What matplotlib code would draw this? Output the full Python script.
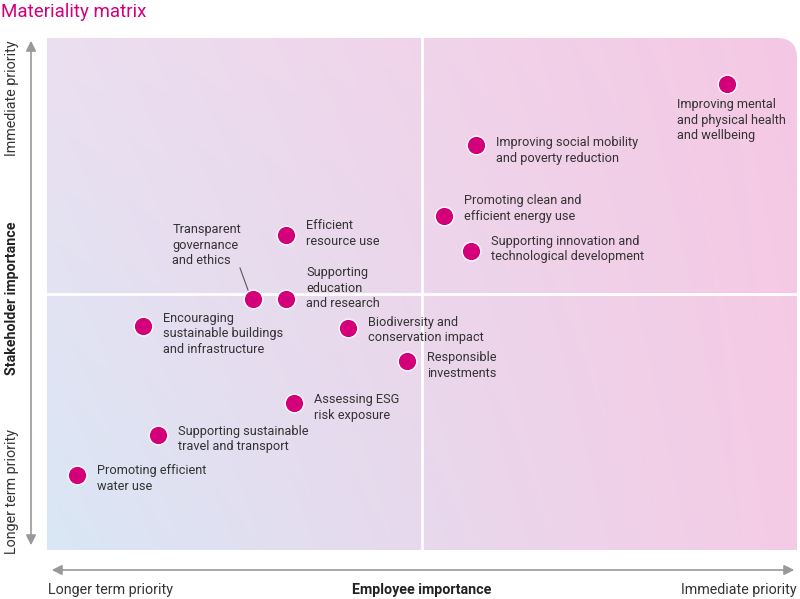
import matplotlib
matplotlib.use("Agg")
import matplotlib.pyplot as plt
import numpy as np
from matplotlib.path import Path
from matplotlib.patches import PathPatch, FancyArrowPatch
from matplotlib.colors import to_rgb

plt.rcParams['font.family'] = ['Roboto', 'DejaVu Sans']

# topics, employee importance (x) and stakeholder importance (y) on a 0-10 scale
topics = [
    "Improving mental\nand physical health\nand wellbeing",
    "Improving social mobility\nand poverty reduction",
    "Promoting clean and\nefficient energy use",
    "Supporting innovation and\ntechnological development",
    "Efficient\nresource use",
    "Transparent\ngovernance\nand ethics",
    "Supporting\neducation\nand research",
    "Encouraging\nsustainable buildings\nand infrastructure",
    "Biodiversity and\nconservation impact",
    "Responsible\ninvestments",
    "Assessing ESG\nrisk exposure",
    "Supporting sustainable\ntravel and transport",
    "Promoting efficient\nwater use",
]
employee = [9.07, 5.72, 5.29, 5.65, 3.19, 2.75, 3.19, 1.28, 4.01, 4.80, 3.29, 1.48, 0.40]
stakeholder = [9.10, 7.91, 6.52, 5.84, 6.15, 4.90, 4.90, 4.38, 4.34, 3.69, 2.87, 2.25, 1.46]

# label offsets in pixels (dx, dy of text top-left from marker)
offsets = [(-50, -14), (20, 9), (20, 22), (20, 16), (20, 16), (-81, 76), (20, 33),
           (20, 14), (20, 12), (20, 10), (20, 10), (20, 10), (20, 11)]

magenta = "#d4007a"
grey = "#999999"
text_col = "#333333"

fig = plt.figure(figsize=(8, 5.99), dpi=100)
W, H = 800, 599
ax = fig.add_axes([47 / W, (H - 550) / H, 750 / W, 512 / H])
ax.set_xlim(0, 10)
ax.set_ylim(0, 10)
ax.axis('off')

# background gradient
bl, tl, br, tr = [np.array(to_rgb(c)) for c in ("#d9e7f5", "#ebdff0", "#f5cbe5", "#f5c8e4")]
n = 200
u = np.linspace(0, 1, n)[None, :, None]
v = np.linspace(0, 1, n)[:, None, None]
grad = (1 - u) * (1 - v) * bl + (1 - u) * v * tl + u * (1 - v) * br + u * v * tr
img = ax.imshow(grad, extent=[0, 10, 0, 10], origin='lower', aspect='auto', zorder=0)

rx, ry = 20 / 75, 20 / 51.2
verts = [(0, 0), (10, 0), (10, 10 - ry), (10, 10), (10 - rx, 10), (0, 10), (0, 0)]
codes = [Path.MOVETO, Path.LINETO, Path.LINETO, Path.CURVE3, Path.CURVE3, Path.LINETO, Path.CLOSEPOLY]
clip = PathPatch(Path(verts, codes), transform=ax.transData, facecolor='none', edgecolor='none')
ax.add_patch(clip)
img.set_clip_path(clip)

ax.axvline(5, color='white', lw=2, zorder=1)
ax.axhline(5, color='white', lw=2, zorder=1)

ax.scatter(employee, stakeholder, s=180, color=magenta, edgecolor='white', linewidth=1, zorder=3)

for name, x, y, (dx, dy) in zip(topics, employee, stakeholder, offsets):
    ax.annotate(name, (x, y), xytext=(dx, dy), textcoords='offset pixels',
                ha='left', va='top', fontsize=9.2, color=text_col, linespacing=1.25, zorder=4)

# leader line for transparent governance
ax.plot([(240 - 47) / 75, (248 - 47) / 75], [(550 - 268) / 51.2, (550 - 290) / 51.2],
        color='#555555', lw=0.8, zorder=2)

# axis arrows
fig.patches.append(FancyArrowPatch((31 / W, 1 - 548 / H), (31 / W, 1 - 38 / H), transform=fig.transFigure,
                                   arrowstyle='<|-|>,head_length=6,head_width=3', color=grey, lw=1.2))
fig.patches.append(FancyArrowPatch((49 / W, 1 - 570 / H), (797 / W, 1 - 570 / H), transform=fig.transFigure,
                                   arrowstyle='<|-|>,head_length=6,head_width=3', color=grey, lw=1.2))

fig.text(1 / W, 1 - 12 / H, "Materiality matrix", fontsize=13.5, color=magenta, ha='left', va='center')
fig.text(12 / W, 1 - 298 / H, "Stakeholder importance", rotation=90, fontsize=10.2, fontweight='bold',
         color='#222222', ha='center', va='center')
fig.text(12 / W, 1 - 40 / H, "Immediate priority", rotation=90, fontsize=10.3, color=text_col,
         ha='center', va='top')
fig.text(12 / W, 1 - 554 / H, "Longer term priority", rotation=90, fontsize=10.3, color=text_col,
         ha='center', va='bottom')
fig.text(48 / W, 1 - 590 / H, "Longer term priority", fontsize=10.3, color=text_col, ha='left', va='center')
fig.text(422 / W, 1 - 590 / H, "Employee importance", fontsize=10.3, fontweight='bold', color='#222222',
         ha='center', va='center')
fig.text(797 / W, 1 - 590 / H, "Immediate priority", fontsize=10.3, color=text_col, ha='right', va='center')

fig.savefig("out.png", dpi=100)
